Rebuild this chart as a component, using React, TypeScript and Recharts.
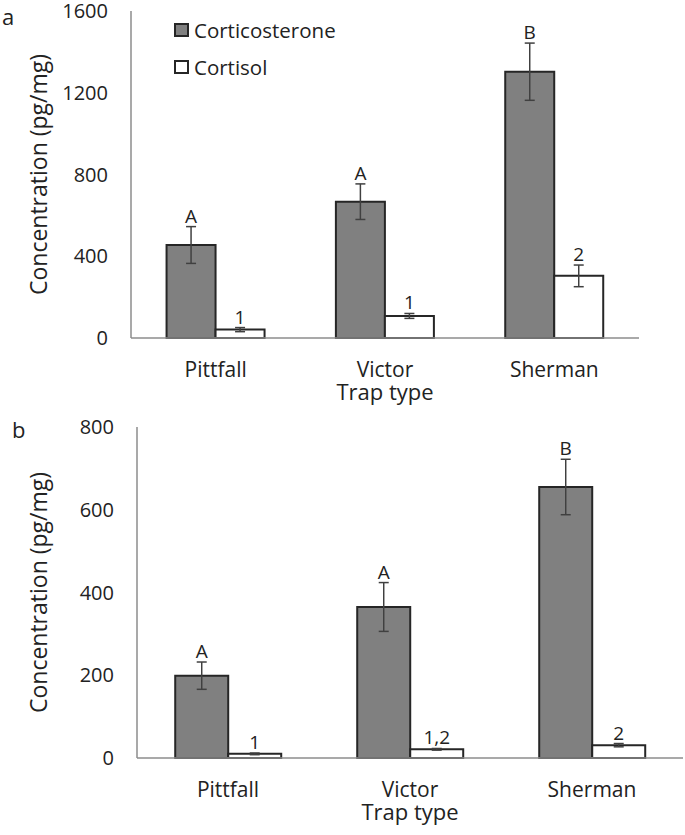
import React from "react";
import { BarChart, Bar, XAxis, YAxis, ErrorBar, LabelList, Legend } from "recharts";

const FONT = "'Open Sans', sans-serif";
const TEXT = "#222222";
const AXIS = "#8c8c8c";
const EDGE = "#262626";
const GRAY = "#808080";

const trapTypes = ["Pittfall", "Victor", "Sherman"];

// panel a
const corticoA = [455, 667, 1303];
const corticoErrA = [90, 87, 140];
const cortisolA = [41, 108, 304];
const cortisolErrA = [10, 12, 53];
const corticoLettersA = ["A", "A", "B"];
const cortisolLettersA = ["1", "1", "2"];
const ticksA = [0, 400, 800, 1200, 1600];

// panel b
const corticoB = [199, 365, 655];
const corticoErrB = [33, 59, 67];
const cortisolB = [10, 21, 31];
const cortisolErrB = [2, 2, 4];
const corticoLettersB = ["A", "A", "B"];
const cortisolLettersB = ["1", "1,2", "2"];
const ticksB = [0, 200, 400, 600, 800];

const buildRows = (
  cortico: number[],
  corticoErr: number[],
  cortisol: number[],
  cortisolErr: number[],
  corticoLetters: string[],
  cortisolLetters: string[]
) =>
  trapTypes.map((name, i) => ({
    name,
    cortico: cortico[i],
    corticoErr: corticoErr[i],
    cortisol: cortisol[i],
    cortisolErr: cortisolErr[i],
    corticoLetter: corticoLetters[i],
    cortisolLetter: cortisolLetters[i],
  }));

// letter sits just above the top whisker of the error bar
const sigLabel = (vals: number[], errs: number[]) => (props: any) => {
  const { x, y, width, height, value, index } = props;
  const v = vals[index];
  const errPx = v ? (Math.abs(height) * errs[index]) / v : 0;
  return (
    <text
      x={x + width / 2}
      y={y - errPx - 4}
      textAnchor="middle"
      fontSize={19}
      fontFamily={FONT}
      fill={TEXT}
    >
      {value}
    </text>
  );
};

const swatch = (fill: string) => (
  <span
    style={{
      display: "inline-block",
      width: 11,
      height: 10,
      background: fill,
      border: `2px solid ${EDGE}`,
      marginRight: 5,
    }}
  />
);

const legendContent = () => (
  <div style={{ fontFamily: FONT, fontSize: 20.5, color: TEXT }}>
    <div style={{ display: "flex", alignItems: "center", height: 37 }}>
      {swatch(GRAY)}Corticosterone
    </div>
    <div style={{ display: "flex", alignItems: "center", height: 37 }}>
      {swatch("#ffffff")}Cortisol
    </div>
  </div>
);

type PanelProps = {
  rows: ReturnType<typeof buildRows>;
  ticks: number[];
  height: number;
  margin: { top: number; right: number; left: number; bottom: number };
  yWidth: number;
  xHeight: number;
  corticoVals: number[];
  corticoErrs: number[];
  cortisolVals: number[];
  cortisolErrs: number[];
  showLegend?: boolean;
};

function Panel({
  rows,
  ticks,
  height,
  margin,
  yWidth,
  xHeight,
  corticoVals,
  corticoErrs,
  cortisolVals,
  cortisolErrs,
  showLegend,
}: PanelProps) {
  return (
    <BarChart
      width={685}
      height={height}
      data={rows}
      margin={margin}
      barCategoryGap="21%"
      barGap={0}
    >
      <XAxis
        dataKey="name"
        axisLine={{ stroke: AXIS, strokeWidth: 1.5 }}
        tickLine={false}
        tickSize={0}
        tickMargin={24}
        height={xHeight}
        tick={{ fontSize: 21, fill: TEXT, fontFamily: FONT }}
        label={(p: any) => {
          const vb = p.viewBox;
          return (
            <text
              x={vb.x + vb.width / 2}
              y={vb.y + 62}
              textAnchor="middle"
              fontSize={22}
              fontFamily={FONT}
              fill={TEXT}
            >
              Trap type
            </text>
          );
        }}
      />
      <YAxis
        domain={[0, ticks[ticks.length - 1]]}
        ticks={ticks}
        interval={0}
        width={yWidth}
        axisLine={{ stroke: AXIS, strokeWidth: 1.5 }}
        tickLine={false}
        tickSize={0}
        tickMargin={23}
        tick={{ fontSize: 20, fill: TEXT, fontFamily: FONT }}
        label={(p: any) => {
          const vb = p.viewBox;
          const cy = vb.y + vb.height / 2;
          return (
            <text
              x={47}
              y={cy}
              transform={`rotate(-90, 47, ${cy})`}
              textAnchor="middle"
              fontSize={23}
              fontFamily={FONT}
              fill={TEXT}
            >
              Concentration (pg/mg)
            </text>
          );
        }}
      />
      {showLegend && (
        <Legend
          layout="horizontal"
          verticalAlign="middle"
          align="center"
          content={legendContent}
          wrapperStyle={{ left: 174, top: 11, width: 220 }}
        />
      )}
      <Bar
        dataKey="cortico"
        name="Corticosterone"
        fill={GRAY}
        stroke={EDGE}
        strokeWidth={2}
        isAnimationActive={false}
      >
        <ErrorBar dataKey="corticoErr" width={5} stroke="#404040" strokeWidth={1.5} />
        <LabelList dataKey="corticoLetter" content={sigLabel(corticoVals, corticoErrs)} />
      </Bar>
      <Bar
        dataKey="cortisol"
        name="Cortisol"
        fill="#ffffff"
        stroke={EDGE}
        strokeWidth={2}
        isAnimationActive={false}
      >
        <ErrorBar dataKey="cortisolErr" width={5} stroke="#404040" strokeWidth={1.5} />
        <LabelList dataKey="cortisolLetter" content={sigLabel(cortisolVals, cortisolErrs)} />
      </Bar>
    </BarChart>
  );
}

export default function App() {
  const rowsA = buildRows(corticoA, corticoErrA, cortisolA, cortisolErrA, corticoLettersA, cortisolLettersA);
  const rowsB = buildRows(corticoB, corticoErrB, cortisolB, cortisolErrB, corticoLettersB, cortisolLettersB);

  return (
    <div style={{ position: "absolute", left: 0, top: 0, width: 685, height: 835, background: "#fff" }}>
      <div style={{ position: "absolute", left: 0, top: 0 }}>
        <Panel
          rows={rowsA}
          ticks={ticksA}
          height={410}
          margin={{ top: 11, right: 46, left: 0, bottom: 0 }}
          yWidth={131}
          xHeight={72}
          corticoVals={corticoA}
          corticoErrs={corticoErrA}
          cortisolVals={cortisolA}
          cortisolErrs={cortisolErrA}
          showLegend
        />
      </div>
      <div style={{ position: "absolute", left: 0, top: 410 }}>
        <Panel
          rows={rowsB}
          ticks={ticksB}
          height={425}
          margin={{ top: 17, right: 2, left: 0, bottom: 0 }}
          yWidth={137}
          xHeight={77}
          corticoVals={corticoB}
          corticoErrs={corticoErrB}
          cortisolVals={cortisolB}
          cortisolErrs={cortisolErrB}
        />
      </div>
      <svg width={685} height={835} style={{ position: "absolute", left: 0, top: 0, pointerEvents: "none" }}>
        <text x={2} y={25} fontSize={22} fontFamily={FONT} fill={TEXT}>a</text>
        <text x={12} y={438} fontSize={22} fontFamily={FONT} fill={TEXT}>b</text>
      </svg>
    </div>
  );
}
